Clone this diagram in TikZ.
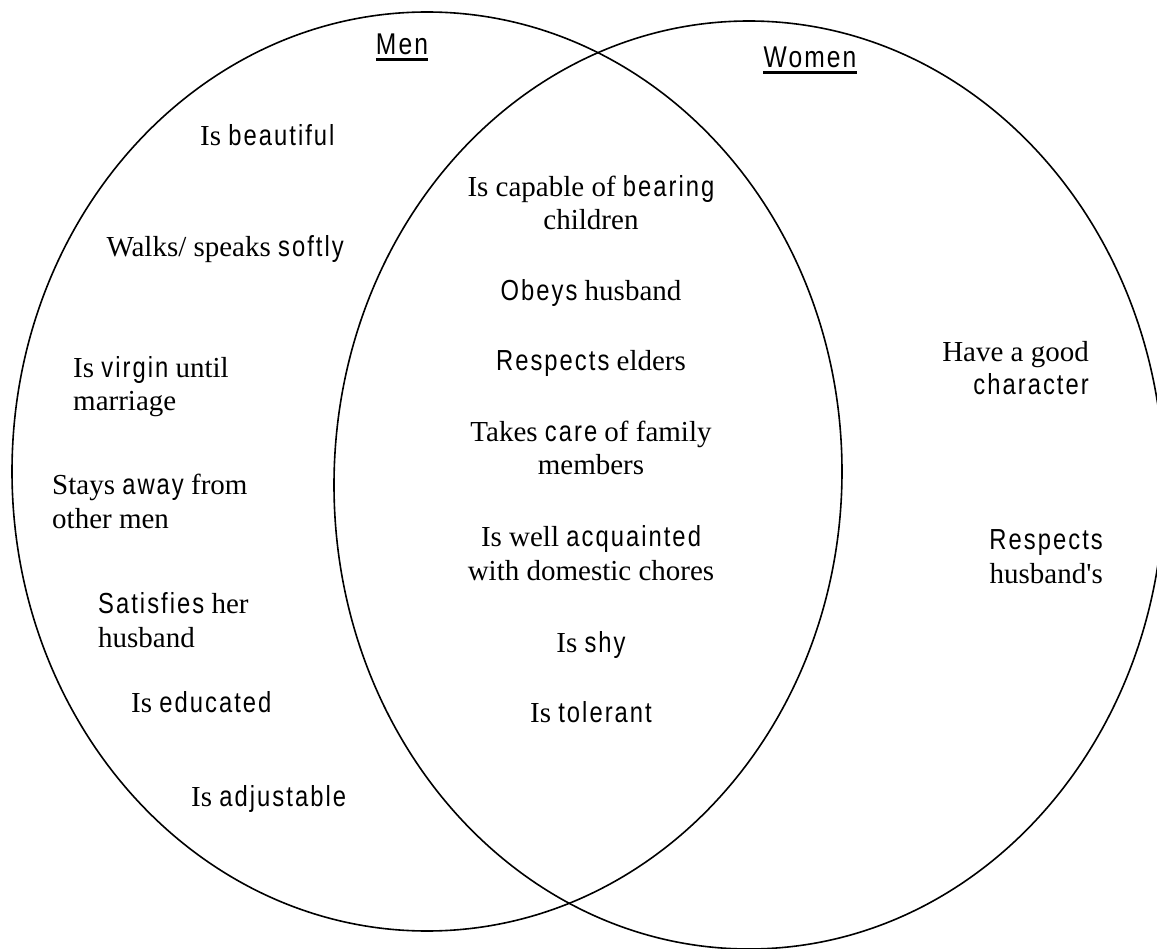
\documentclass[tikz,border=0pt]{standalone}
\usepackage{fontspec}
\setmainfont{Liberation Serif}
\newfontfamily\nar[FakeStretch=0.82,LetterSpace=7]{Liberation Sans}
\begin{document}
\begin{tikzpicture}[x=1pt,y=-1pt,
  venn/.style={line width=1.6pt},
  lbl/.style={inner sep=0pt,font=\fontsize{29}{33.5}\selectfont},
  head/.style={inner sep=0pt,font=\nar\fontsize{30}{34}\selectfont},
  uline/.style={line width=3pt}]
\useasboundingbox (0,0) rectangle (1157,949);
% ellipses
\draw[venn] (427,471.5) ellipse [x radius=415pt, y radius=459.5pt];
\draw[venn] (749,485) ellipse [x radius=415pt, y radius=464pt];
% headings
\node[head,anchor=base] (men) at (402,55) {Men};
\node[head,anchor=base] (women) at (810,68) {Women};
\draw[uline] ([yshift=-4.5pt]men.base west) -- ([yshift=-4.5pt]men.base east);
\draw[uline] ([yshift=-4.5pt]women.base west) -- ([yshift=-4.5pt]women.base east);
% left (multi-line nodes: base = last line)
\node[lbl,anchor=base west] (beau) at (200,146) {Is {\nar beautiful}};
\node[lbl,anchor=base east] (walk) at (344,257) {Walks/ speaks {\nar softly}};
\node[lbl,anchor=base west,align=left] (virg) at (73,411) {Is {\nar virgin} until\\marriage};
\node[lbl,anchor=base west,align=left] (stay) at (52,528) {Stays {\nar away} from\\other men};
\node[lbl,anchor=base west,align=left] (sat) at (98,647) {{\nar Satisfies} her\\husband};
\node[lbl,anchor=base west] (edu) at (131,712) {Is {\nar educated}};
\node[lbl,anchor=base west] (adj) at (191,806) {Is {\nar adjustable}};
% middle
\node[lbl,anchor=base,align=center] (cap) at (591,230) {Is capable of {\nar bearing}\\children};
\node[lbl,anchor=base] (obey) at (591,301) {{\nar Obeys} husband};
\node[lbl,anchor=base] (resp) at (591,371) {{\nar Respects} elders};
\node[lbl,anchor=base,align=center] (care) at (591,475) {Takes {\nar care} of family\\members};
\node[lbl,anchor=base,align=center] (acq) at (591,580) {Is well {\nar acquainted}\\with domestic chores};
\node[lbl,anchor=base] (shy) at (591,652) {Is {\nar shy}};
\node[lbl,anchor=base] (tol) at (591,722) {Is {\nar tolerant}};
% right
\node[lbl,anchor=base east,align=right] (good) at (1089,395) {Have a good\\{\nar character}};
\node[lbl,anchor=base east,align=right] (hus) at (1103,583) {{\nar Respects}\\husband\textquotesingle s};
\end{tikzpicture}
\end{document}
